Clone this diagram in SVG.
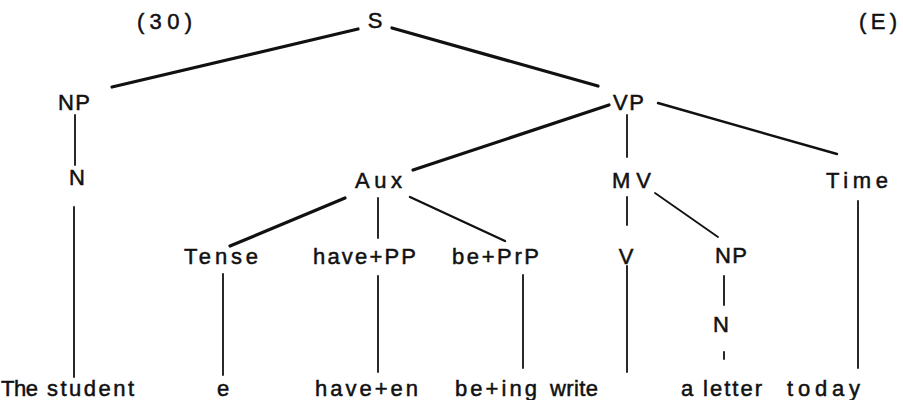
<svg xmlns="http://www.w3.org/2000/svg" width="903" height="400" viewBox="0 0 903 400">
<style>
text{font-family:"Liberation Sans","DejaVu Sans",sans-serif;font-size:22px;fill:#111;stroke:#111;stroke-width:0.5;}
.c{text-anchor:middle;}
line{stroke:#111;stroke-linecap:round;}
.k{stroke-width:3.2;}
.m{stroke-width:2.4;}
.t{stroke-width:1.8;}
</style>
<rect width="903" height="400" fill="#fff"/>
<g id="labels">
<text x="137" y="29" textLength="55" lengthAdjust="spacing">(30)</text>
<text x="859" y="29" textLength="38" lengthAdjust="spacing">(E)</text>
</g>
<g id="connectors">
<line class="k" x1="112" y1="87" x2="358" y2="29"/>
<line class="k" x1="392" y1="28" x2="598" y2="86"/>
<line class="k" x1="609" y1="105" x2="413" y2="170"/>
<line class="t" x1="627" y1="115" x2="627" y2="157"/>
<line class="m" x1="658" y1="103" x2="837" y2="154"/>
<line class="t" x1="75" y1="115" x2="75" y2="165"/>
<line class="t" x1="74" y1="207" x2="74" y2="377"/>
<line class="k" x1="345" y1="198" x2="230" y2="246"/>
<line class="t" x1="378" y1="198" x2="378" y2="238"/>
<line class="m" x1="410" y1="197" x2="505" y2="241"/>
<line class="t" x1="627" y1="197" x2="627" y2="225"/>
<line class="t" x1="655" y1="193" x2="718" y2="237"/>
<line class="t" x1="858" y1="201" x2="858" y2="368"/>
<line class="t" x1="223" y1="274" x2="223" y2="375"/>
<line class="t" x1="378" y1="276" x2="378" y2="372"/>
<line class="t" x1="523" y1="275" x2="523" y2="368"/>
<line class="t" x1="627" y1="266" x2="627" y2="372"/>
<line class="t" x1="724" y1="276" x2="724" y2="305"/>
<line class="t" x1="724" y1="352" x2="724" y2="359"/>
</g>
<g id="S"><text class="c" x="375" y="28">S</text></g>
<g id="NP1"><text x="58" y="110" textLength="32" lengthAdjust="spacing">NP</text></g>
<g id="VP"><text x="613" y="110" textLength="31" lengthAdjust="spacing">VP</text></g>
<g id="N1"><text class="c" x="77" y="185">N</text></g>
<g id="Aux"><text x="355" y="188" textLength="47" lengthAdjust="spacing">Aux</text></g>
<g id="MV"><text x="612" y="188" textLength="39" lengthAdjust="spacing">MV</text></g>
<g id="Time"><text x="826" y="188" textLength="62" lengthAdjust="spacing">Time</text></g>
<g id="Tense"><text x="184" y="264" textLength="74" lengthAdjust="spacing">Tense</text></g>
<g id="havePP"><text x="313" y="264" textLength="103" lengthAdjust="spacing">have+PP</text></g>
<g id="bePrP"><text x="452" y="264" textLength="87" lengthAdjust="spacing">be+PrP</text></g>
<g id="V"><text class="c" x="626" y="264">V</text></g>
<g id="NP2"><text x="715" y="263" textLength="32" lengthAdjust="spacing">NP</text></g>
<g id="N2"><text class="c" x="721" y="332">N</text></g>
<g id="w-the-student"><text x="1" y="396" textLength="37" lengthAdjust="spacing">The</text><text x="47" y="396" textLength="87" lengthAdjust="spacing">student</text></g>
<g id="w-e"><text class="c" x="223" y="396">e</text></g>
<g id="w-haveen"><text x="315" y="396" textLength="103" lengthAdjust="spacing">have+en</text></g>
<g id="w-being"><text x="455" y="396" textLength="82" lengthAdjust="spacing">be+ing</text></g>
<g id="w-write"><text x="550" y="396" textLength="48" lengthAdjust="spacing">write</text></g>
<g id="w-a-letter"><text x="681" y="396">a</text><text x="703" y="396" textLength="59" lengthAdjust="spacing">letter</text></g>
<g id="w-today"><text x="787" y="396" textLength="73" lengthAdjust="spacing">today</text></g>
</svg>
